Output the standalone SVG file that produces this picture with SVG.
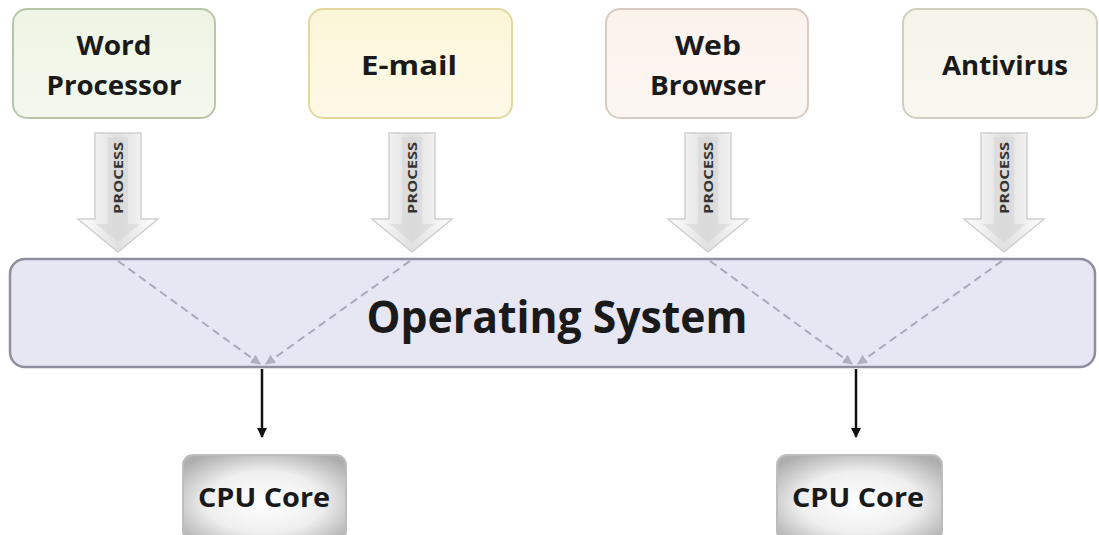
<svg xmlns="http://www.w3.org/2000/svg" width="1099" height="535" viewBox="0 0 1099 535">
  <defs>
    <linearGradient id="gWord" x1="0" y1="0" x2="0" y2="1"><stop offset="0" stop-color="#eef5e4"/><stop offset="1" stop-color="#f3f8ee"/></linearGradient>
    <linearGradient id="gMail" x1="0" y1="0" x2="0" y2="1"><stop offset="0" stop-color="#fcf6d8"/><stop offset="1" stop-color="#fdf9e6"/></linearGradient>
    <linearGradient id="gWeb" x1="0" y1="0" x2="0" y2="1"><stop offset="0" stop-color="#fbf2ec"/><stop offset="1" stop-color="#fcf6f2"/></linearGradient>
    <linearGradient id="gAnti" x1="0" y1="0" x2="0" y2="1"><stop offset="0" stop-color="#f5f4ea"/><stop offset="1" stop-color="#f8f8f1"/></linearGradient>
    <linearGradient id="gArrow" x1="0" y1="0" x2="1" y2="0">
      <stop offset="0" stop-color="#ffffff"/><stop offset="0.3" stop-color="#ececec"/><stop offset="0.5" stop-color="#e0e0e0"/><stop offset="0.7" stop-color="#ececec"/><stop offset="1" stop-color="#ffffff"/>
    </linearGradient>
    <radialGradient id="gCpu" cx="0.5" cy="0.55" r="0.65">
      <stop offset="0" stop-color="#ffffff"/><stop offset="0.55" stop-color="#efefef"/><stop offset="1" stop-color="#aeaeae"/>
    </radialGradient>
    <marker id="mGray" viewBox="0 0 10 10" refX="9" refY="5" markerWidth="5" markerHeight="5" orient="auto">
      <path d="M0,0 L10,5 L0,10 z" fill="#b0b0c0"/>
    </marker>
    <marker id="mBlack" viewBox="0 0 10 10" refX="9" refY="5" markerWidth="4" markerHeight="4" orient="auto">
      <path d="M0,0 L10,5 L0,10 z" fill="#111"/>
    </marker>
    <style>
      .app { stroke-width: 2; }
      .lbl { font-family: "Open Sans", "Liberation Sans", sans-serif; font-weight: bold; fill: #1a1a1a; text-anchor: middle; }
      .app-t { font-size: 27px; }
      .proc { font-family: "Open Sans", "Liberation Sans", sans-serif; font-weight: bold; font-size: 13px; fill: #333; text-anchor: middle; }
      .arrow-out { fill: url(#gArrow); stroke: #d0d0d0; stroke-width: 1.5; }
      .arrow-in { fill: #d6d6d6; }
      .dash { stroke: #a9a9bb; stroke-width: 2; stroke-dasharray: 8 5; fill: none; }
      .down { stroke: #111; stroke-width: 2.5; fill: none; }
      .cpu { fill: url(#gCpu); stroke: #bdbdbd; stroke-width: 2; }
    </style>
  </defs>
  <rect width="1099" height="535" fill="#ffffff"/>

  <g id="word-processor">
    <rect class="app" x="13" y="9" width="202" height="109" rx="14" fill="url(#gWord)" stroke="#b7c6aa"/>
    <text class="lbl app-t" x="114" y="55" textLength="75" lengthAdjust="spacingAndGlyphs">Word</text>
    <text class="lbl app-t" x="114" y="95" textLength="135" lengthAdjust="spacingAndGlyphs">Processor</text>
  </g>
  <g id="email">
    <rect class="app" x="309" y="9" width="203" height="109" rx="14" fill="url(#gMail)" stroke="#e2d9a0"/>
    <text class="lbl app-t" x="409" y="75" textLength="96" lengthAdjust="spacingAndGlyphs">E-mail</text>
  </g>
  <g id="web-browser">
    <rect class="app" x="606" y="9" width="202" height="109" rx="14" fill="url(#gWeb)" stroke="#d8cbc3"/>
    <text class="lbl app-t" x="708" y="55" textLength="66" lengthAdjust="spacingAndGlyphs">Web</text>
    <text class="lbl app-t" x="708" y="95" textLength="116" lengthAdjust="spacingAndGlyphs">Browser</text>
  </g>
  <g id="antivirus">
    <rect class="app" x="903" y="9" width="194" height="109" rx="14" fill="url(#gAnti)" stroke="#d0d0c2"/>
    <text class="lbl app-t" x="1005" y="75" textLength="126" lengthAdjust="spacingAndGlyphs">Antivirus</text>
  </g>

  <g id="process-arrows">
    <g id="proc1" transform="translate(118,0)">
      <path class="arrow-out" d="M-23,133 L23,133 L23,219 L40,219 L0,252 L-40,219 L-23,219 Z"/>
      <path class="arrow-in" d="M-10,137 L10,137 L10,224 L22,224 L0,242 L-22,224 L-10,224 Z" opacity="0.6"/>
      <text class="proc" transform="translate(5,178) rotate(-90)" textLength="72" lengthAdjust="spacingAndGlyphs">PROCESS</text>
    </g>
    <g id="proc2" transform="translate(412,0)">
      <path class="arrow-out" d="M-23,133 L23,133 L23,219 L40,219 L0,252 L-40,219 L-23,219 Z"/>
      <path class="arrow-in" d="M-10,137 L10,137 L10,224 L22,224 L0,242 L-22,224 L-10,224 Z" opacity="0.6"/>
      <text class="proc" transform="translate(5,178) rotate(-90)" textLength="72" lengthAdjust="spacingAndGlyphs">PROCESS</text>
    </g>
    <g id="proc3" transform="translate(708,0)">
      <path class="arrow-out" d="M-23,133 L23,133 L23,219 L40,219 L0,252 L-40,219 L-23,219 Z"/>
      <path class="arrow-in" d="M-10,137 L10,137 L10,224 L22,224 L0,242 L-22,224 L-10,224 Z" opacity="0.6"/>
      <text class="proc" transform="translate(5,178) rotate(-90)" textLength="72" lengthAdjust="spacingAndGlyphs">PROCESS</text>
    </g>
    <g id="proc4" transform="translate(1004,0)">
      <path class="arrow-out" d="M-23,133 L23,133 L23,219 L40,219 L0,252 L-40,219 L-23,219 Z"/>
      <path class="arrow-in" d="M-10,137 L10,137 L10,224 L22,224 L0,242 L-22,224 L-10,224 Z" opacity="0.6"/>
      <text class="proc" transform="translate(5,178) rotate(-90)" textLength="72" lengthAdjust="spacingAndGlyphs">PROCESS</text>
    </g>
  </g>

  <g id="operating-system">
    <rect x="10" y="259" width="1085" height="108" rx="15" fill="#e7e7f4" stroke="#8e8e9e" stroke-width="2.5"/>
    <text class="lbl" x="557" y="333" font-size="44" textLength="381" lengthAdjust="spacingAndGlyphs">Operating System</text>
  </g>

  <g id="connectors">
    <path class="dash" d="M118,261 L260,364" marker-end="url(#mGray)"/>
    <path class="dash" d="M410,261 L266,364" marker-end="url(#mGray)"/>
    <path class="dash" d="M710,261 L852,364" marker-end="url(#mGray)"/>
    <path class="dash" d="M1002,261 L858,364" marker-end="url(#mGray)"/>
    <path class="down" d="M262,369 L262,437" marker-end="url(#mBlack)"/>
    <path class="down" d="M856,369 L856,437" marker-end="url(#mBlack)"/>
  </g>

  <g id="cpu-core-1">
    <rect class="cpu" x="183" y="455" width="163" height="86" rx="10"/>
    <text class="lbl" x="264" y="507" font-size="26" textLength="132" lengthAdjust="spacingAndGlyphs">CPU Core</text>
  </g>
  <g id="cpu-core-2">
    <rect class="cpu" x="777" y="455" width="165" height="86" rx="10"/>
    <text class="lbl" x="858" y="507" font-size="26" textLength="132" lengthAdjust="spacingAndGlyphs">CPU Core</text>
  </g>
</svg>
